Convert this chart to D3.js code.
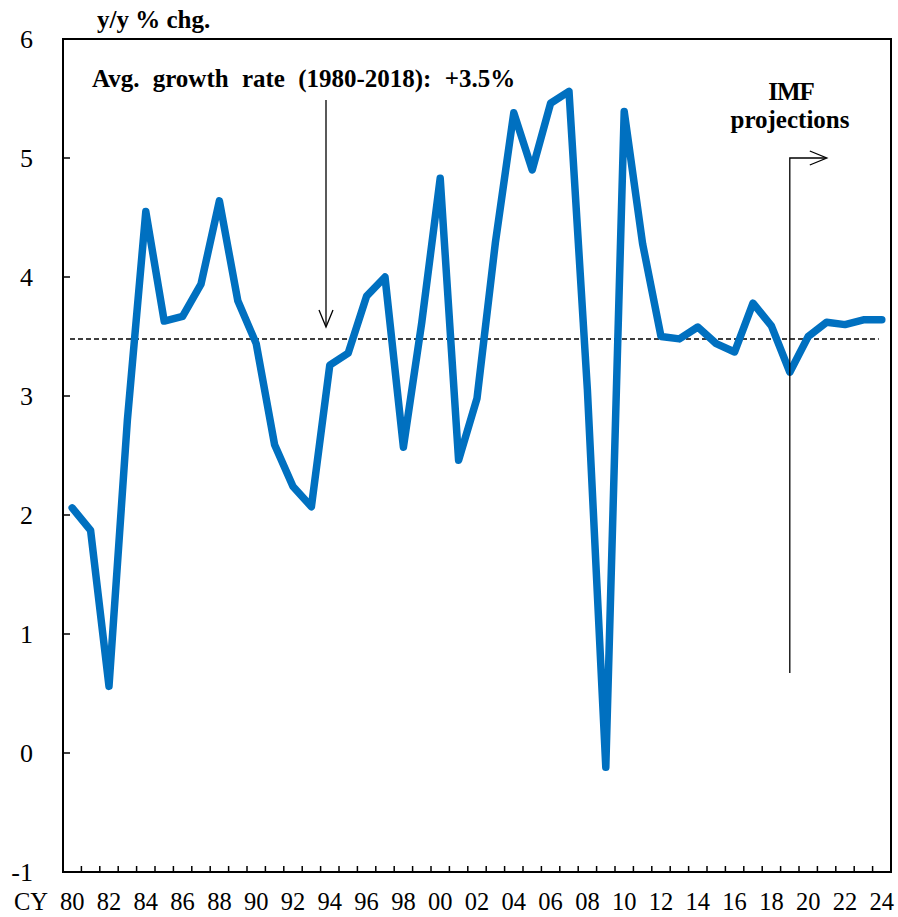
<!DOCTYPE html>
<html><head><meta charset="utf-8">
<script src="https://cdn.jsdelivr.net/npm/d3@7"></script>
<style>body{margin:0;background:#fff}svg{display:block}text{font-family:"Liberation Serif","Times New Roman",serif}</style>
</head><body><svg id="c" width="898" height="917"></svg>
<script>
const years = d3.range(1980, 2025);
const growth = [2.06,1.87,0.56,2.80,4.55,3.63,3.67,3.94,4.64,3.80,
  3.44,2.59,2.24,2.07,3.26,3.36,3.84,4.00,2.57,3.62,
  4.83,2.46,2.98,4.29,5.38,4.90,5.46,5.56,3.05,-0.12,
  5.39,4.28,3.50,3.48,3.58,3.44,3.37,3.78,3.59,3.20,
  3.50,3.62,3.60,3.64,3.64];
const avgRate = 3.48;
const yTicks = [-1,0,1,2,3,4,5,6];
const xLabelYears = years.filter(y => y % 2 === 0);

const svg = d3.select("#c");
const L = 63, R = 891, T = 39, B = 872;
const x = d3.scaleBand().domain(years).range([L, R]);
const y = d3.scaleLinear().domain([-1, 6]).range([B, T]);
const cx = yr => x(yr) + x.bandwidth() / 2;

// y ticks (inward)
svg.append("g").selectAll("line").data(yTicks).join("line")
  .attr("x1", L).attr("x2", L + 7).attr("y1", d => y(d)).attr("y2", d => y(d))
  .attr("stroke", "#000").attr("stroke-width", 1.5);
svg.append("g").selectAll("text").data(yTicks).join("text")
  .attr("x", 33).attr("y", d => y(d) + 9).attr("text-anchor", "end")
  .attr("font-size", 26).text(d => d);

// x ticks at band boundaries
const bounds = years.slice(1).map(d => x(d));
svg.append("g").selectAll("line").data(bounds).join("line")
  .attr("x1", d => d).attr("x2", d => d).attr("y1", B).attr("y2", B - 6)
  .attr("stroke", "#000").attr("stroke-width", 1.5);
svg.append("g").selectAll("text").data(xLabelYears).join("text")
  .attr("x", d => cx(d)).attr("y", 910).attr("text-anchor", "middle")
  .attr("font-size", 24.5).text(d => String(d % 100).padStart(2, "0"));
svg.append("text").attr("x", 14).attr("y", 910).attr("font-size", 24.5).text("CY");

// avg dashed line
svg.append("line").attr("x1", L + 7).attr("x2", cx(2024) - 3)
  .attr("y1", y(avgRate)).attr("y2", y(avgRate))
  .attr("stroke", "#000").attr("stroke-width", 1.5).attr("stroke-dasharray", "5,3");

// data line
svg.append("path").datum(years.map((yr, i) => [yr, growth[i]]))
  .attr("fill", "none").attr("stroke", "#0070C0").attr("stroke-width", 7.5)
  .attr("stroke-linejoin", "round").attr("stroke-linecap", "round")
  .attr("d", d3.line().x(d => cx(d[0])).y(d => y(d[1])));

// frame
svg.append("rect").attr("x", L).attr("y", T).attr("width", R - L).attr("height", B - T)
  .attr("fill", "none").attr("stroke", "#000").attr("stroke-width", 2);

// titles
svg.append("text").attr("x", 97).attr("y", 28).attr("font-size", 25).attr("font-weight", "bold").text("y/y % chg.");
svg.append("text").attr("x", 92).attr("y", 87).attr("font-size", 25).attr("font-weight", "bold")
  .attr("word-spacing", 7).text("Avg. growth rate (1980-2018): +3.5%");

// down arrow
const ax = 326;
svg.append("line").attr("x1", ax).attr("x2", ax).attr("y1", 100).attr("y2", 326).attr("stroke", "#000").attr("stroke-width", 1.3);
svg.append("path").attr("d", `M${ax-7},${310} L${ax},${327} L${ax+7},${310}`).attr("fill", "none").attr("stroke", "#000").attr("stroke-width", 1.3);

// IMF projections
const px = cx(2019);
svg.append("text").attr("x", 791).attr("y", 100).attr("text-anchor", "middle").attr("font-size", 25).attr("font-weight", "bold").attr("letter-spacing", -1).text("IMF");
svg.append("text").attr("x", 790).attr("y", 128).attr("text-anchor", "middle").attr("font-size", 25).attr("font-weight", "bold").text("projections");
svg.append("path").attr("d", `M${px},673 L${px},158 L${px + 36},158`).attr("fill", "none").attr("stroke", "#000").attr("stroke-width", 1.3);
svg.append("path").attr("d", `M${px+20},151 L${px+37},158 L${px+20},165`).attr("fill", "none").attr("stroke", "#000").attr("stroke-width", 1.3);
</script></body></html>
